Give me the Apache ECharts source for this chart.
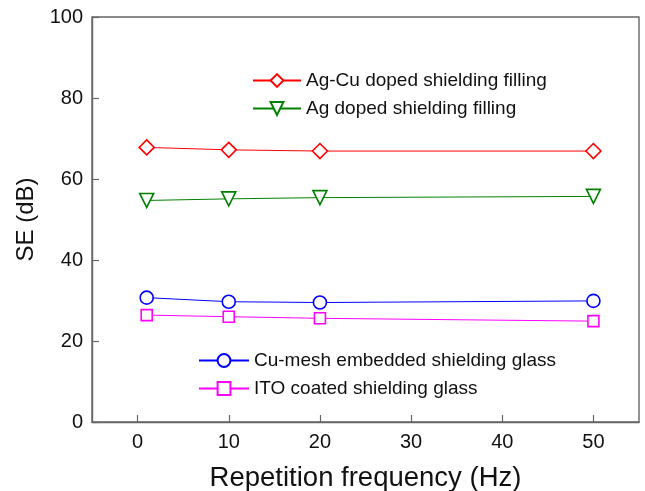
<!DOCTYPE html>
<html><head><meta charset="utf-8">
<script src="https://cdn.jsdelivr.net/npm/echarts@6/dist/echarts.min.js"></script>
<style>html,body{margin:0;padding:0;background:#fff}#c{width:645px;height:491px}</style>
</head><body><div id="c"></div>
<script>
const freq = [1, 10, 20, 50];
const agCu = [67.8, 67.2, 66.9, 66.9];
const ag = [54.7, 55.1, 55.4, 55.7];
const cuMesh = [30.7, 29.7, 29.5, 29.9];
const ito = [26.4, 26.0, 25.6, 24.9];
const xTicks = [0, 10, 20, 30, 40, 50];
const names = ['Ag-Cu doped shielding filling', 'Ag doped shielding filling', 'Cu-mesh embedded shielding glass', 'ITO coated shielding glass'];

const diamond = 'path://M0,-1L1,0L0,1L-1,0Z';
const triDown = 'path://M-1,-0.85L1,-0.85L0,0.9Z';
const square = 'path://M-1,-1L1,-1L1,1L-1,1Z';
function mk(name, vals, color, symbol, size) {
  return {
    name, type: 'line', data: freq.map((f, i) => [f, vals[i]]),
    symbol, symbolSize: size, showAllSymbol: true,
    lineStyle: { color, width: 1 },
    itemStyle: { color: '#fff', borderColor: color, borderWidth: 1.6 },
    emphasis: { disabled: true }
  };
}
const font = 'Liberation Sans, Arial, sans-serif';
const axisColor = '#666';
const chart = echarts.init(document.getElementById('c'));
chart.setOption({
  animation: false,
  textStyle: { fontFamily: font },
  grid: { left: 92, right: 6, top: 17, bottom: 69, show: true, borderColor: axisColor, borderWidth: 1.4, backgroundColor: 'transparent', outerBoundsMode: 'none', containLabel: false },
  legend: [
    { data: [names[0], names[1]], orient: 'vertical', left: 252, top: 71, itemWidth: 48, itemHeight: 16, itemGap: 9,
      textStyle: { fontSize: 19, color: '#111', fontFamily: font }, padding: 0, selectedMode: false },
    { data: [names[2], names[3]], orient: 'vertical', left: 198, top: 351, itemWidth: 50, itemHeight: 16, itemGap: 9,
      textStyle: { fontSize: 19, color: '#111', fontFamily: font }, padding: 0, selectedMode: false }
  ],
  xAxis: {
    type: 'value', min: -5, max: 55,
    name: 'Repetition frequency (Hz)', nameLocation: 'middle', nameGap: 42,
    nameTextStyle: { fontSize: 27.5, color: '#111', fontFamily: font },
    axisLine: { onZero: false, lineStyle: { color: axisColor, width: 1.4 } },
    axisTick: { show: true, inside: true, length: 7, customValues: xTicks, lineStyle: { color: axisColor, width: 1.2 } },
    axisLabel: { customValues: xTicks, fontSize: 20, color: '#111', margin: 10, fontFamily: font },
    splitLine: { show: false }
  },
  yAxis: {
    type: 'value', min: 0, max: 100, interval: 20,
    name: 'SE (dB)', nameLocation: 'middle', nameGap: 51, nameRotate: 90,
    nameTextStyle: { fontSize: 24, color: '#111', fontFamily: font },
    axisLine: { show: true, onZero: false, lineStyle: { color: axisColor, width: 1.4 } },
    axisTick: { show: true, inside: true, length: 7, lineStyle: { color: axisColor, width: 1.2 } },
    axisLabel: { fontSize: 20, color: '#111', margin: 9, fontFamily: font },
    splitLine: { show: false }
  },
  series: [
    mk(names[0], agCu, '#ff0000', diamond, 15),
    mk(names[1], ag, '#008000', triDown, 14),
    mk(names[2], cuMesh, '#0000ff', 'circle', 13),
    mk(names[3], ito, '#ff00ff', square, 11)
  ]
});
</script></body></html>
